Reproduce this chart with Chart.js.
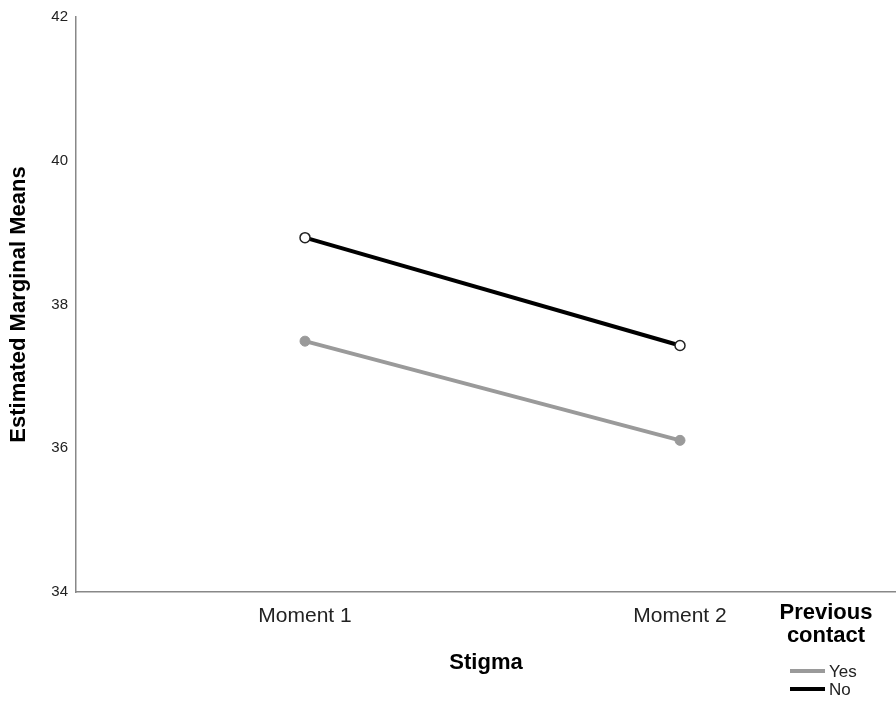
<!DOCTYPE html>
<html>
<head>
<meta charset="utf-8">
<script src="https://cdn.jsdelivr.net/npm/chart.js@4.4.1/dist/chart.umd.min.js"></script>
<style>
    html, body { margin: 0; padding: 0; background: #fff; }
    #wrap { position: relative; width: 896px; height: 704px; }
</style>
</head>
<body>
<div id="wrap"><canvas id="chart" width="896" height="704"></canvas></div>
<script>
// data
const moments = ['Moment 1', 'Moment 2'];
const yesMeans = [37.49, 36.11];
const noMeans = [38.93, 37.43];
const yTicks = [34, 36, 38, 40, 42];
const legendTitle = ['Previous', 'contact'];
const groups = ['Yes', 'No'];

const font = "'Liberation Sans', Arial, sans-serif";
const grey = '#9a9a9a';

function toPoints(values) {
    return values.map((v, i) => ({ x: i + 1, y: v }));
}

// legend drawn under the plot, right side, like SPSS
const legendPlugin = {
    id: 'spssLegend',
    afterDraw(chart) {
        const ctx = chart.ctx;
        ctx.save();
        ctx.fillStyle = '#000';
        ctx.font = 'bold 22px ' + font;
        ctx.textAlign = 'center';
        ctx.textBaseline = 'middle';
        legendTitle.forEach((t, i) => ctx.fillText(t, 826, 613 + i * 23));

        const colors = [grey, '#000'];
        ctx.font = '17px ' + font;
        ctx.textAlign = 'left';
        groups.forEach((g, i) => {
            const y = 671 + i * 18;
            ctx.strokeStyle = colors[i];
            ctx.lineWidth = 4;
            ctx.beginPath();
            ctx.moveTo(790, y);
            ctx.lineTo(825, y);
            ctx.stroke();
            ctx.fillStyle = '#222';
            ctx.fillText(g, 829, y + 1);
        });
        ctx.restore();
    }
};

const ctx = document.getElementById('chart').getContext('2d');
const chart = new Chart(ctx, {
    type: 'line',
    data: {
        datasets: [{
            label: groups[0],
            data: toPoints(yesMeans),
            borderColor: grey,
            backgroundColor: grey,
            borderWidth: 4,
            pointRadius: 5,
            pointBorderWidth: 1,
            pointBorderColor: grey,
            pointBackgroundColor: grey
        }, {
            label: groups[1],
            data: toPoints(noMeans),
            borderColor: '#000',
            backgroundColor: '#000',
            borderWidth: 4,
            pointRadius: 5,
            pointBorderWidth: 1.5,
            pointBorderColor: '#222',
            pointBackgroundColor: '#fff'
        }]
    },
    options: {
        responsive: false,
        animation: false,
        layout: { autoPadding: false, padding: { top: 16, right: 0, left: 0, bottom: 0 } },
        plugins: {
            legend: { display: false },
            tooltip: { enabled: false }
        },
        scales: {
            x: {
                type: 'linear',
                min: 0.3893,
                max: 2.5760,
                grid: { display: false, drawTicks: false },
                border: { display: true, color: '#888', width: 1.5 },
                afterBuildTicks(scale) {
                    scale.ticks = moments.map((m, i) => ({ value: i + 1 }));
                },
                afterFit(scale) { scale.height = 112; },
                ticks: {
                    padding: 12,
                    color: '#222',
                    font: { family: font, size: 21 },
                    callback: (v) => moments[v - 1] || ''
                },
                title: {
                    display: true,
                    text: 'Stigma',
                    color: '#000',
                    font: { family: font, size: 22, weight: 'bold' },
                    padding: { top: 4, bottom: 28 }
                }
            },
            y: {
                min: yTicks[0],
                max: yTicks[yTicks.length - 1],
                grid: { display: false, drawTicks: false },
                border: { display: true, color: '#888', width: 1.5 },
                afterBuildTicks(scale) {
                    scale.ticks = yTicks.map(v => ({ value: v }));
                },
                afterFit(scale) { scale.width = 76; },
                ticks: {
                    padding: 8,
                    color: '#222',
                    font: { family: font, size: 15 }
                },
                title: {
                    display: true,
                    text: 'Estimated Marginal Means',
                    color: '#000',
                    font: { family: font, size: 22, weight: 'bold' },
                    padding: { top: 6, bottom: 0 }
                }
            }
        }
    },
    plugins: [legendPlugin]
});
</script>
</body>
</html>
